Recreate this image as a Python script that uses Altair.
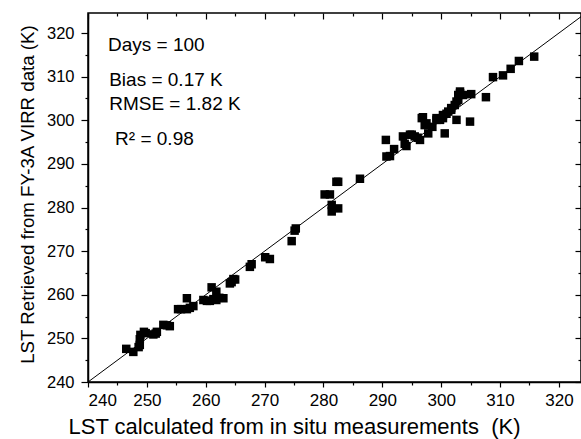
import altair as alt
import pandas as pd

# LST from in situ measurements (K) vs LST retrieved from FY-3A VIRR (K)
insitu = [246.5, 247.7, 248.6, 248.8, 248.8, 248.9, 249.5, 249.8, 251.1, 251.5,
          251.7, 252.8, 253.4, 253.9, 255.3, 255.8, 256.8, 256.8, 257.3, 257.9,
          259.6, 260.2, 260.7, 261.0, 261.3, 261.8, 261.8, 262.3, 263.0, 264.1,
          264.4, 264.7, 265.0, 267.5, 267.8, 270.1, 270.9, 274.6, 275.1, 275.3,
          280.2, 281.1, 282.2, 282.5, 281.4, 281.4, 282.5, 286.2,
          290.6, 290.7, 291.3, 292.0, 293.5, 293.8, 294.1, 294.7, 295.0, 295.5,
          296.0, 296.4, 296.7, 296.9, 297.2, 297.5, 297.8, 298.5, 299.2, 299.2,
          299.8, 300.3, 300.3, 300.6, 300.9, 301.2, 301.7, 301.7, 302.3, 302.6,
          302.6, 302.9, 302.9, 303.2, 303.2, 303.7, 304.9, 305.1, 307.6, 308.8,
          310.5, 311.8, 313.2, 315.8]
virr = [247.6, 246.9, 248.0, 248.5, 249.8, 250.8, 251.5, 251.2, 250.9, 251.1,
        251.5, 253.1, 253.0, 252.8, 256.7, 256.7, 256.7, 259.2, 257.0, 257.4,
        258.8, 258.6, 258.6, 261.7, 259.0, 260.7, 258.8, 259.3, 259.2, 262.6,
        262.9, 263.6, 263.5, 266.4, 267.0, 268.6, 268.2, 272.3, 274.7, 275.2,
        283.0, 283.0, 285.9, 285.9, 280.6, 279.1, 279.8, 286.6,
        295.5, 291.7, 291.8, 293.4, 296.3, 294.6, 294.1, 296.7, 296.7, 296.3,
        296.0, 295.5, 300.5, 300.7, 298.9, 299.3, 297.0, 298.5, 300.5, 300.1,
        300.1, 301.2, 300.5, 297.0, 301.5, 302.0, 302.4, 302.8, 303.5, 300.1,
        304.3, 304.7, 305.8, 306.2, 306.6, 305.8, 299.7, 306.0, 305.3, 309.9,
        310.3, 311.8, 313.6, 314.6]

line_vals = [240, 330]

ann_text = ["Days = 100", "Bias = 0.17 K", "RMSE = 1.82 K", "R\u00b2 = 0.98"]
ann_x = [243.4, 243.6, 243.6, 244.6]
ann_y = [315.9, 307.85, 302.35, 294.33]

tick_vals = list(range(240, 325, 5))

FONT = "Liberation Sans"
W, H = 493, 369

df = pd.DataFrame({"insitu": insitu, "virr": virr})
line_df = pd.DataFrame({"a": line_vals, "b": line_vals})
ann_df = pd.DataFrame({"t": ann_text, "x": ann_x, "y": ann_y})

xs = alt.Scale(domain=[240, 323.75], nice=False, zero=False)
ys = alt.Scale(domain=[240, 324.6], nice=False, zero=False)

major = "datum.value % 10 === 0"
lbl = "datum.value % 10 === 0 ? datum.label : ''"


def tsize(a, b):
    return {"condition": {"test": major, "value": a}, "value": b}


points = alt.Chart(df).mark_square(size=72, color="black", opacity=1).encode(
    x=alt.X("insitu:Q", scale=xs, axis=alt.Axis(
        orient="bottom", values=tick_vals, labelExpr=lbl, tickSize=tsize(5, 3),
        title="LST calculated from in situ measurements \u00a0(K)",
        labelFontSize=17, titleFontSize=22, labelPadding=5, titlePadding=8,
        titleX=206, titleFontWeight="normal")),
    y=alt.Y("virr:Q", scale=ys, axis=alt.Axis(
        orient="left", values=tick_vals, labelExpr=lbl, tickSize=tsize(7, 3),
        title="LST Retrieved from FY-3A VIRR data (K)",
        labelFontSize=16.5, titleFontSize=18.7, labelPadding=7, titlePadding=9,
        titleY=181, titleFontWeight="normal")),
)

line = alt.Chart(line_df).mark_line(color="black", strokeWidth=1, clip=True).encode(
    x=alt.X("a:Q", scale=xs, axis=alt.Axis(
        orient="bottom", offset=-H, values=tick_vals, labels=False, domain=False,
        title=None, tickSize=tsize(6, 3))),
    y=alt.Y("b:Q", scale=ys, axis=alt.Axis(
        orient="left", offset=-W, values=tick_vals, labels=False, domain=False,
        title=None, tickSize=tsize(6, 3))),
)

ann = alt.Chart(ann_df).mark_text(
    align="left", baseline="alphabetic", fontSize=19, font=FONT, color="black"
).encode(
    x=alt.X("x:Q", scale=xs, axis=None),
    y=alt.Y("y:Q", scale=ys, axis=None),
    text="t:N",
)

chart = alt.layer(line, points, ann).resolve_axis(
    x="independent", y="independent"
).properties(
    width=W, height=H,
    padding={"left": 88, "top": 13, "right": 0, "bottom": 57},
    autosize="none",
    background="white",
).configure_view(
    stroke="black", strokeWidth=1.5
).configure_axis(
    grid=False, domainColor="black", domainWidth=1.5, tickColor="black",
    tickWidth=1.2, labelColor="black", titleColor="black",
    labelFont=FONT, titleFont=FONT,
)

chart.save("out.html", embed_options={"renderer": "svg", "actions": False})
